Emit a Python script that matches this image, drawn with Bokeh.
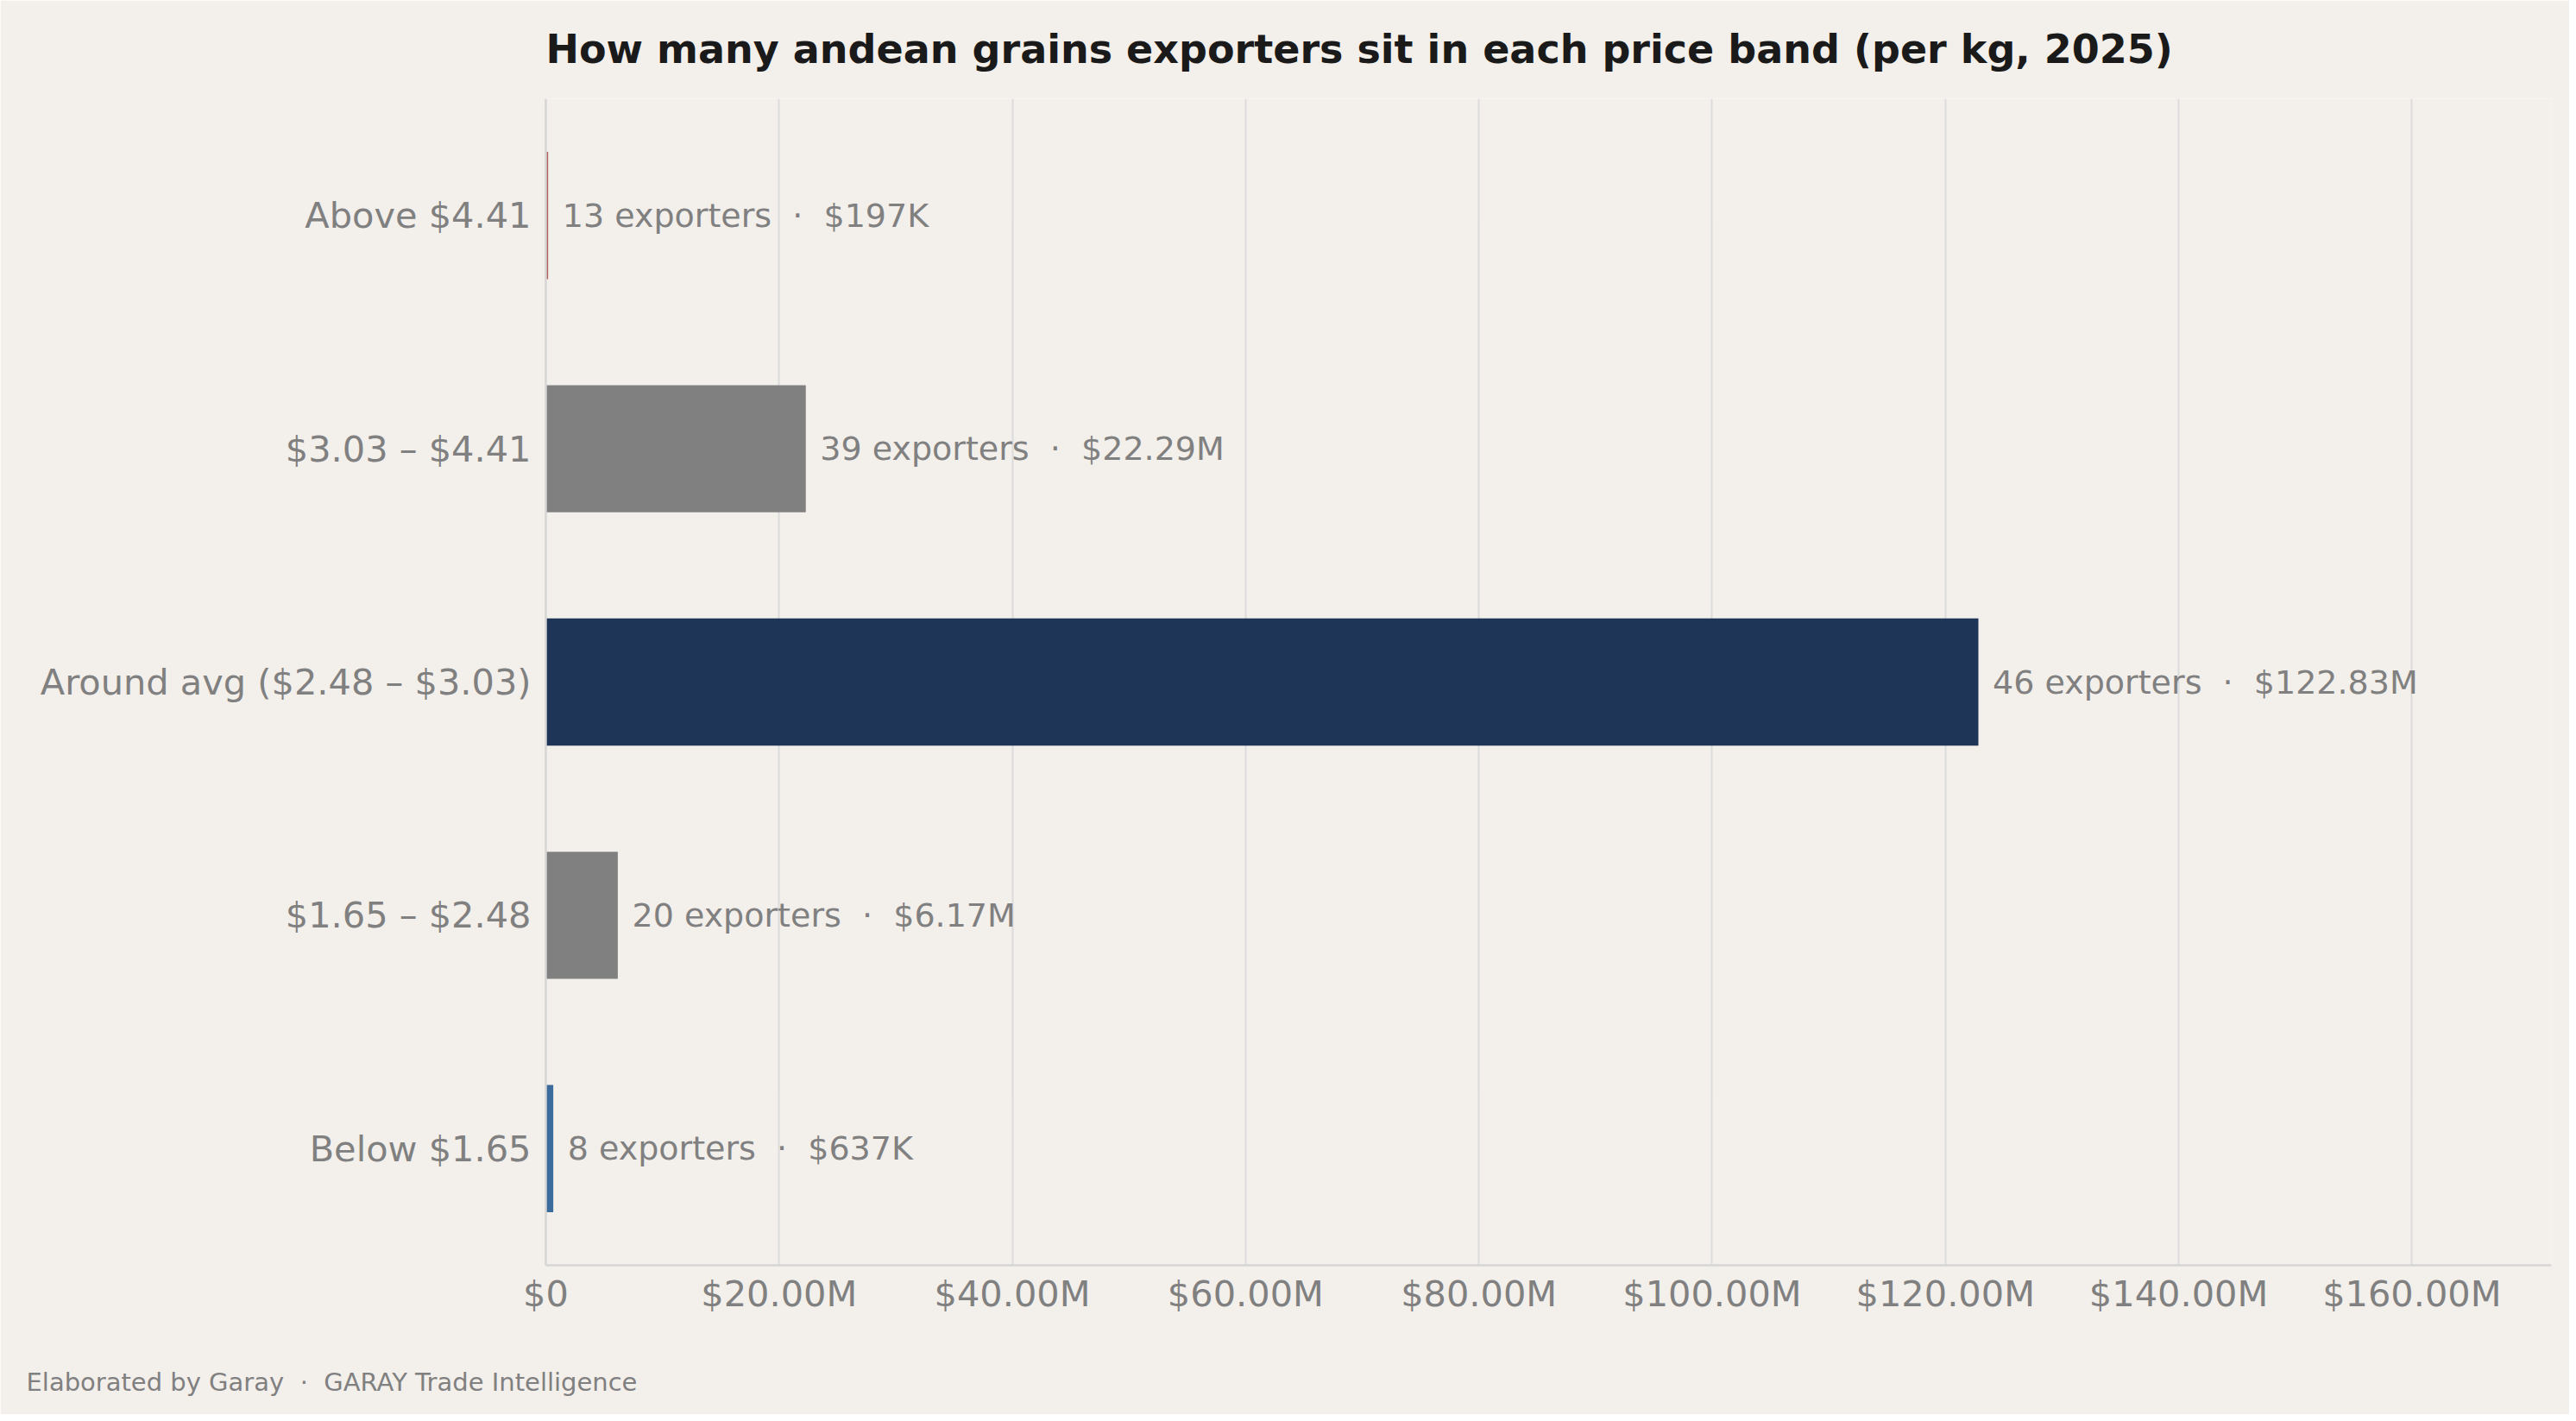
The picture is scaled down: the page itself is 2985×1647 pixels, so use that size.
from bokeh.plotting import figure
from bokeh.models import (ColumnDataSource, FactorRange, Range1d, FixedTicker,
                          CustomJSTickFormatter, Title)
from bokeh.core.properties import value
from bokeh.embed import file_html
from bokeh.resources import INLINE

# ---- data ----
bands = ["Below $1.65", "$1.65 – $2.48", "Around avg ($2.48 – $3.03)",
         "$3.03 – $4.41", "Above $4.41"]
trade_value = [637e3, 6.17e6, 122.83e6, 22.29e6, 197e3]
exporters = [8, 20, 46, 39, 13]
value_labels = ["$637K", "$6.17M", "$122.83M", "$22.29M", "$197K"]
bar_colors = ["#3a6b9c", "#808080", "#1e3557", "#808080", "#b0605a"]
x_ticks = [0, 20e6, 40e6, 60e6, 80e6, 100e6, 120e6, 140e6, 160e6]

title_text = "How many andean grains exporters sit in each price band (per kg, 2025)"
footer_text = "Elaborated by Garay \u00a0·\u00a0 GARAY Trade Intelligence"

BG = "#f3efeb"
FONT = "DejaVu Sans"
GRAY = "#808080"

vmax = max(trade_value)
ann_x = [v + vmax * 0.01 for v in trade_value]
ann_text = [f"{n} exporters \u00a0·\u00a0 {lbl}" for n, lbl in zip(exporters, value_labels)]

src = ColumnDataSource(dict(band=bands, val=trade_value, color=bar_colors,
                            ax=ann_x, txt=ann_text))

BL, BR, BT, BB = 632, 21, 114, 173
FW, FH = 2324, 1352
p = figure(width=BL + FW + BR, height=BT + FH + BB,
           output_backend="svg", toolbar_location=None,
           y_range=FactorRange(factors=bands, range_padding=0),
           x_range=Range1d(0, vmax * 1.4),
           min_border_left=BL, min_border_right=BR,
           min_border_top=BT, min_border_bottom=BB)
p.background_fill_color = BG
p.border_fill_color = BG
p.outline_line_color = None

p.hbar(y="band", right="val", left=0, height=0.545, color="color",
       line_color=None, source=src)
p.text(x="ax", y="band", text="txt", source=src, text_font=value(FONT),
       text_font_size="38px", text_color=GRAY, text_baseline="middle",
       text_align="left")

# axes
p.xaxis.ticker = FixedTicker(ticks=x_ticks)
p.xaxis.formatter = CustomJSTickFormatter(
    code="return tick == 0 ? '$0' : '$' + (tick/1e6).toFixed(2) + 'M';")
for ax in (p.xaxis, p.yaxis):
    ax.major_label_text_font = FONT
    ax.major_label_text_font_size = "41.5px"
    ax.major_label_text_color = GRAY
    ax.major_tick_line_color = None
    ax.minor_tick_line_color = None
    ax.axis_line_color = "#d6d6d6"
    ax.axis_line_width = 2.5
p.xaxis.major_label_standoff = 2
p.yaxis.major_label_standoff = 11

p.xgrid.grid_line_color = "#dcdcdc"
p.xgrid.grid_line_width = 2
p.ygrid.grid_line_color = None

p.title = Title(text=title_text, align="left", text_font=FONT,
                text_font_size="46px", text_font_style="bold",
                text_color="#1a1a1a", standoff=57, vertical_align="top")
p.add_layout(Title(text=footer_text, align="left", offset=-602,
                   text_font=FONT, text_font_size="29px",
                   text_font_style="normal", text_color=GRAY,
                   standoff=10, vertical_align="top",
                   padding=(0, 0, 53, 0)), "below")

open("out.html", "w").write(file_html(p, INLINE))
